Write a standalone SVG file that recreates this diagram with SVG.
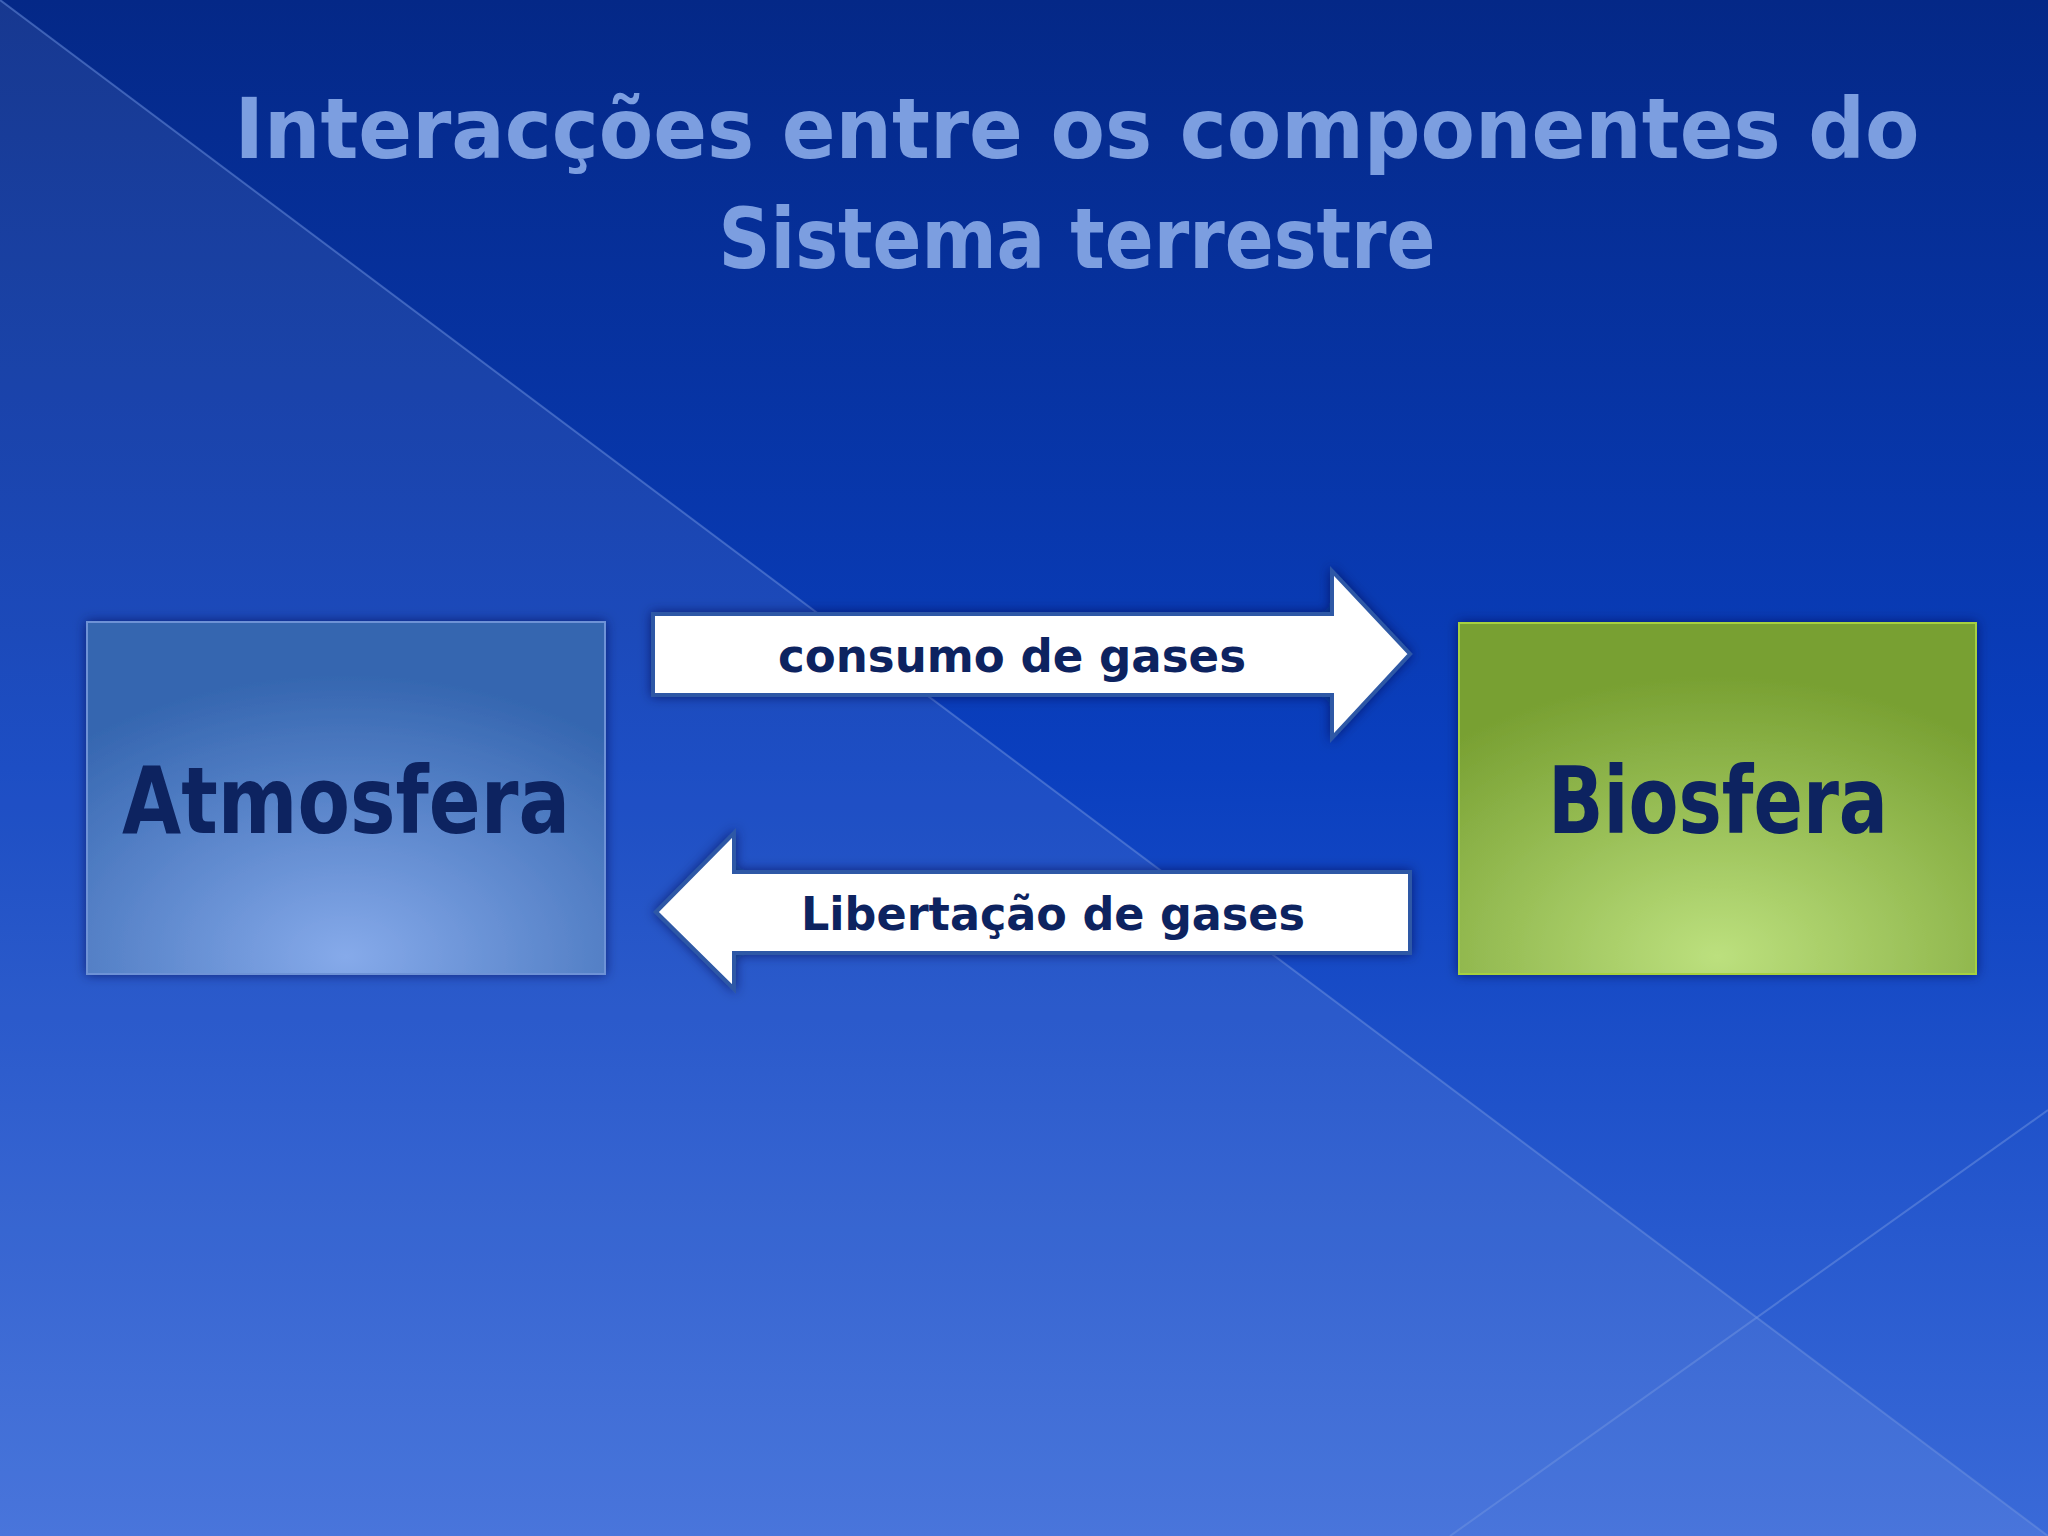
<svg xmlns="http://www.w3.org/2000/svg" width="2048" height="1536" viewBox="0 0 2048 1536">
<defs>
<linearGradient id="bg" x1="0" y1="0" x2="0" y2="1"><stop offset="0" stop-color="#042887"/><stop offset="0.5" stop-color="#0a3fbf"/><stop offset="1" stop-color="#3a6ad8"/></linearGradient>
<radialGradient id="atm" cx="0.5" cy="0.95" r="0.8"><stop offset="0" stop-color="#86aaea"/><stop offset="1" stop-color="#3566b0"/></radialGradient>
<radialGradient id="bio" cx="0.5" cy="0.95" r="0.8"><stop offset="0" stop-color="#bce07e"/><stop offset="1" stop-color="#78a032"/></radialGradient>
<filter id="sh"><feDropShadow dx="0" dy="0" stdDeviation="6" flood-color="#001040" flood-opacity="0.6"/></filter>
<style>
.t{font-family:"DejaVu Sans",sans-serif;font-weight:bold;text-anchor:middle}
.title{font-size:84px;fill:#7c9ee0}
.box{font-size:92px;fill:#0d2360}
.lab{font-size:47px;fill:#0d2360}
.arr{fill:#fff;stroke:#2e58a6;stroke-width:4}
</style>
</defs>
<rect width="2048" height="1536" fill="url(#bg)"/>
<polygon points="0,0 2048,1536 0,1536" fill="#ffffff" opacity="0.08"/>
<line x1="0" y1="0" x2="2048" y2="1536" stroke="#6f93e0" stroke-width="2" opacity="0.5"/>
<line x1="1450" y1="1536" x2="2048" y2="1110" stroke="#6f93e0" stroke-width="2" opacity="0.5"/>
<g id="title">
<text class="t title" x="1077" y="158" textLength="1685" lengthAdjust="spacingAndGlyphs">Interacções entre os componentes do</text>
<text class="t title" x="1077" y="268" textLength="717" lengthAdjust="spacingAndGlyphs">Sistema terrestre</text>
</g>
<g id="atmosfera">
<rect x="87" y="622" width="518" height="352" fill="url(#atm)" stroke="#6e92d6" stroke-width="2" filter="url(#sh)"/>
<text class="t box" x="346" y="833" textLength="448" lengthAdjust="spacingAndGlyphs">Atmosfera</text>
</g>
<g id="biosfera">
<rect x="1459" y="623" width="517" height="351" fill="url(#bio)" stroke="#a6d040" stroke-width="2" filter="url(#sh)"/>
<text class="t box" x="1718" y="833" textLength="340" lengthAdjust="spacingAndGlyphs">Biosfera</text>
</g>
<g id="connectors">
<g id="consumo">
<polygon class="arr" filter="url(#sh)" points="653,614 1332,614 1332,571 1410,654 1332,738 1332,695 653,695"/>
<text class="t lab" x="1012" y="672" textLength="468" lengthAdjust="spacingAndGlyphs">consumo de gases</text>
</g>
<g id="libertacao">
<polygon class="arr" filter="url(#sh)" points="1410,872 734,872 734,833 656,912 734,989 734,953 1410,953"/>
<text class="t lab" x="1053" y="930" textLength="504" lengthAdjust="spacingAndGlyphs">Libertação de gases</text>
</g>
</g>
</svg>
